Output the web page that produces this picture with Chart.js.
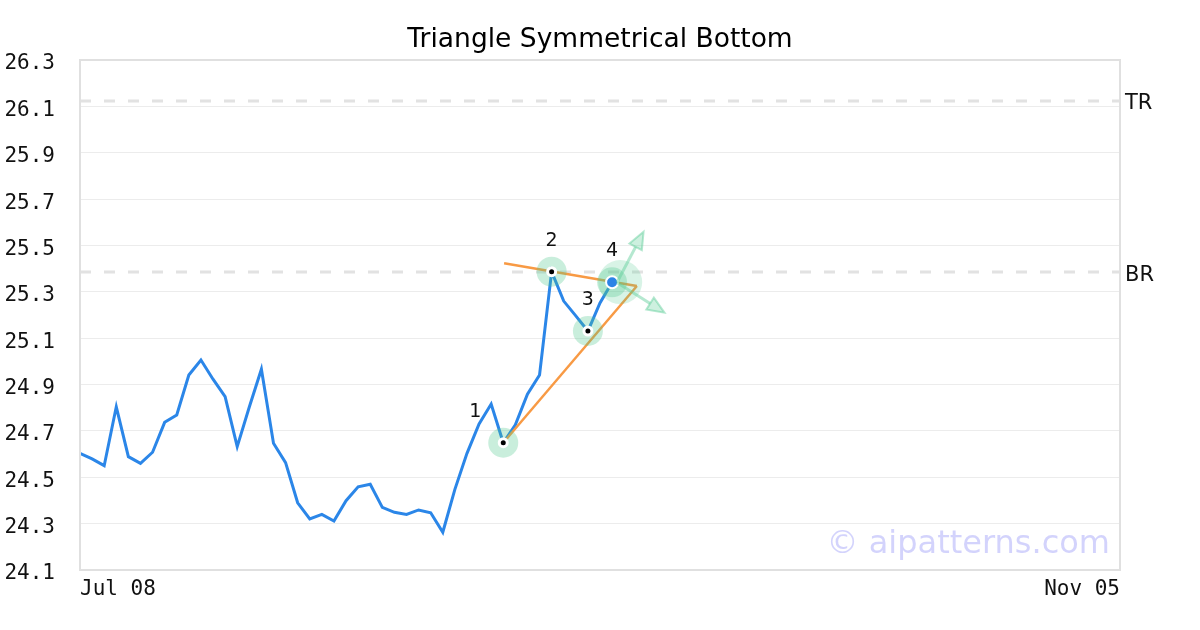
<!DOCTYPE html>
<html>
<head>
<meta charset="utf-8">
<script src="https://cdn.jsdelivr.net/npm/chart.js@4/dist/chart.umd.min.js"></script>
<style>
  html, body { margin: 0; padding: 0; background: #fff; }
  #wrap { width: 1200px; height: 630px; }
</style>
</head>
<body>
<div id="wrap"><canvas id="chart"></canvas></div>
<script>
// price closes, one per session, from Jul 08
const closes = [
  24.603, 24.579, 24.550, 24.804, 24.589, 24.560, 24.608, 24.737, 24.769, 24.941,
  25.006, 24.923, 24.848, 24.632, 24.803, 24.966, 24.647, 24.563, 24.390, 24.320,
  24.340, 24.311, 24.399, 24.459, 24.470, 24.370, 24.349, 24.340, 24.359, 24.347,
  24.263, 24.448, 24.603, 24.730, 24.816, 24.649, 24.726, 24.858, 24.941, 25.387,
  25.260, 25.196, 25.131, 25.252, 25.341
]

const xLabels = ['Jul 08', 'Nov 05']
const xSpan = 86

const yTicks = [24.1, 24.3, 24.5, 24.7, 24.9, 25.1, 25.3, 25.5, 25.7, 25.9, 26.1, 26.3]

// pattern pivots (index into closes) and their names
const pivotIndex = [35, 39, 42, 44]
const pivotNames = ['1', '2', '3', '4']

// triangle sides [index, price]
const upperSide = [[35.07, 25.423], [46.05, 25.325]]
const lowerSide = [[35.0, 24.649], [46.05, 25.325]]

// target zone and breakout arrows [index, price]
const targetZone = [44.67, 25.342]
const arrowFrom = [44.4, 25.34]
const arrowTips = [[46.6, 25.559], [48.33, 25.21]]

// resistance levels
const levelNames = ['TR', 'BR']
const levelValues = [26.123, 25.385]

const pts = (pairs) => pairs.map(([x, y]) => ({ x, y }))

const pivotPoints = pivotIndex.map((i) => ({ x: i, y: closes[i] }))

const levelSets = levelValues.map((v) => ({
  data: [{ x: 0, y: v }, { x: xSpan, y: v }],
  borderColor: '#e2e2e2',
  borderWidth: 3,
  borderDash: [11, 13],
  pointRadius: 0,
  order: 10
}))

const overlay = {
  id: 'overlay',
  beforeDatasetsDraw(chart) {
    let { ctx, chartArea: a } = chart
    ctx.save()
    ctx.font = '32px "DejaVu Sans"'
    ctx.fillStyle = 'rgba(110, 110, 245, 0.3)'
    ctx.textAlign = 'right'
    ctx.textBaseline = 'alphabetic'
    ctx.fillText('\u00a9 aipatterns.com', a.right - 10, a.bottom - 17)
    ctx.restore()
  },
  afterDatasetsDraw(chart) {
    let { ctx, chartArea: a, scales: { x, y } } = chart
    ctx.save()

    // arrows
    let ox = x.getPixelForValue(arrowFrom[0])
    let oy = y.getPixelForValue(arrowFrom[1])
    arrowTips.forEach(([tx, ty]) => {
      let px = x.getPixelForValue(tx)
      let py = y.getPixelForValue(ty)
      let ang = Math.atan2(py - oy, px - ox)
      let len = 17
      let bx = px - Math.cos(ang) * len
      let by = py - Math.sin(ang) * len
      ctx.strokeStyle = 'rgba(90, 205, 150, 0.45)'
      ctx.lineWidth = 3
      ctx.beginPath()
      ctx.moveTo(ox, oy)
      ctx.lineTo(bx, by)
      ctx.stroke()
      ctx.beginPath()
      ctx.moveTo(px, py)
      ctx.lineTo(bx + Math.sin(ang) * 7, by - Math.cos(ang) * 7)
      ctx.lineTo(bx - Math.sin(ang) * 7, by + Math.cos(ang) * 7)
      ctx.closePath()
      ctx.fillStyle = 'rgba(90, 205, 150, 0.3)'
      ctx.fill()
      ctx.lineWidth = 2
      ctx.stroke()
    })

    // pivot names
    ctx.font = '19px "DejaVu Sans"'
    ctx.fillStyle = '#111'
    ctx.textAlign = 'center'
    ctx.textBaseline = 'middle'
    pivotPoints.forEach((p, k) => {
      let dx = k === 0 ? -28 : 0
      ctx.fillText(pivotNames[k], x.getPixelForValue(p.x) + dx, y.getPixelForValue(p.y) - 31)
    })

    // level names
    ctx.font = '21px "DejaVu Sans"'
    ctx.textAlign = 'left'
    levelValues.forEach((v, k) => {
      ctx.fillText(levelNames[k], a.right + 5, y.getPixelForValue(v) + 3)
    })

    // frame
    ctx.strokeStyle = '#e0e0e0'
    ctx.lineWidth = 2
    ctx.strokeRect(a.left, a.top, a.right - a.left, a.bottom - a.top)
    ctx.restore()
  }
}

new Chart(document.getElementById('chart'), {
  type: 'line',
  data: {
    datasets: [
      {
        data: pivotPoints.slice(0, 3),
        showLine: false,
        pointRadius: 4,
        pointBackgroundColor: '#000',
        pointBorderColor: '#fff',
        pointBorderWidth: 3,
        order: 1
      },
      {
        data: pivotPoints.slice(3),
        showLine: false,
        pointRadius: 6,
        pointBackgroundColor: '#2b83e6',
        pointBorderColor: '#fff',
        pointBorderWidth: 2,
        order: 0
      },
      {
        data: pivotPoints,
        showLine: false,
        pointRadius: 15,
        pointBorderWidth: 0,
        pointBackgroundColor: 'rgba(76, 200, 140, 0.3)',
        order: 4
      },
      {
        data: pts([targetZone]),
        showLine: false,
        pointRadius: 22,
        pointBorderWidth: 0,
        pointBackgroundColor: 'rgba(76, 200, 140, 0.22)',
        order: 5
      },
      {
        data: pts(upperSide),
        borderColor: '#f89a44',
        borderWidth: 2.5,
        pointRadius: 0,
        order: 6
      },
      {
        data: pts(lowerSide),
        borderColor: '#f89a44',
        borderWidth: 2.5,
        pointRadius: 0,
        order: 6
      },
      {
        data: closes.map((v, i) => ({ x: i, y: v })),
        borderColor: '#2b86e8',
        borderWidth: 3,
        pointRadius: 0,
        tension: 0,
        order: 8
      },
      ...levelSets
    ]
  },
  options: {
    responsive: true,
    maintainAspectRatio: false,
    animation: false,
    layout: { padding: 0 },
    plugins: {
      legend: { display: false },
      tooltip: { enabled: false },
      title: {
        display: true,
        text: 'Triangle Symmetrical Bottom',
        color: '#000',
        font: { family: 'DejaVu Sans', size: 26.5, weight: 'normal', lineHeight: 1.2 },
        padding: { top: 24.1, bottom: 4.1 }
      }
    },
    scales: {
      x: {
        type: 'linear',
        min: 0,
        max: xSpan,
        grid: { display: false, drawTicks: false },
        border: { display: false },
        afterFit: (s) => { s.height = 60 },
        afterBuildTicks: (s) => { s.ticks = [{ value: 0 }, { value: xSpan }] },
        ticks: {
          align: 'inner',
          maxRotation: 0,
          padding: 7,
          color: '#111',
          font: { family: 'DejaVu Sans Mono', size: 21 },
          callback: (v) => (v === 0 ? xLabels[0] : xLabels[1])
        }
      },
      y: {
        min: 24.1,
        max: 26.3,
        grid: { color: '#ececec', lineWidth: 1, drawTicks: false },
        border: { display: false },
        afterFit: (s) => { s.width = 80 },
        afterBuildTicks: (s) => { s.ticks = yTicks.map((value) => ({ value })) },
        ticks: {
          padding: 25,
          labelOffset: 4,
          color: '#111',
          font: { family: 'DejaVu Sans Mono', size: 21 },
          callback: (v) => v.toFixed(1)
        }
      },
      // empty right gutter for the level names
      side: {
        position: 'right',
        min: 24.1,
        max: 26.3,
        grid: { display: false, drawTicks: false },
        border: { display: false },
        ticks: { display: false },
        afterFit: (s) => { s.width = 80 }
      }
    }
  },
  plugins: [overlay]
})
</script>
</body>
</html>
